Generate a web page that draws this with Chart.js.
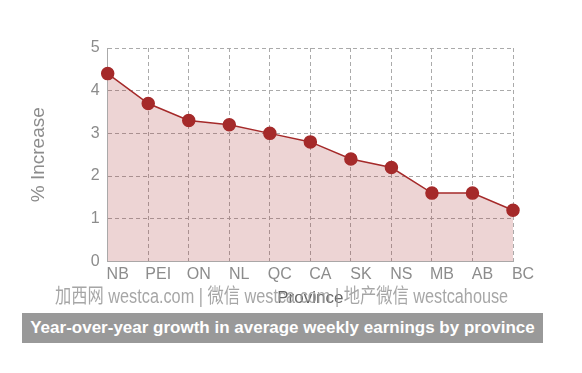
<!DOCTYPE html>
<html>
<head>
<meta charset="utf-8">
<script src="https://cdn.jsdelivr.net/npm/chart.js@4"></script>
<style>
  body { margin: 0; background: #fff; font-family: Arial, "Liberation Sans", sans-serif; }
  #wrap { position: absolute; left: 0; top: 0; width: 582px; height: 309px; }
  #mark { position: absolute; left: 55px; top: 280px; text-align: left; transform-origin: 0 0;
          font: 20px "Liberation Sans", Arial, "Noto Sans CJK SC", sans-serif; color: rgba(150,150,150,0.85); white-space: nowrap; }
  #caption { position: absolute; left: 22px; top: 313px; width: 521px; height: 30px; line-height: 30px;
             background: #999; color: #fff; font-weight: bold; font-size: 17px; text-align: center; }
</style>
</head>
<body>
<div id="wrap"><canvas id="growthChart"></canvas></div>
<div id="mark">加西网 westca.com | 微信 westca.com | 地产微信 westcahouse</div>
<div id="caption">Year-over-year growth in average weekly earnings by province</div>
<script>
const provinces = ['NB', 'PEI', 'ON', 'NL', 'QC', 'CA', 'SK', 'NS', 'MB', 'AB', 'BC'];
const increase = [4.4, 3.7, 3.3, 3.2, 3.0, 2.8, 2.4, 2.2, 1.6, 1.6, 1.2];
const yTicks = [0, 1, 2, 3, 4, 5];

// squeeze the watermark line to the width it has in the picture
const mark = document.getElementById('mark');
mark.style.transform = 'scaleX(' + (453 / mark.scrollWidth) + ')';

const ctx = document.getElementById('growthChart').getContext('2d');

// dashed grey grid, like the original
const gridStyle = { color: '#aaa', lineWidth: 1, drawTicks: false };
const borderStyle = { color: '#aaa', dash: [4, 3] };

new Chart(ctx, {
    type: 'line',
    data: {
        labels: provinces,
        datasets: [{
            label: '% Increase',
            data: increase,
            borderColor: '#a52a2a',
            backgroundColor: 'rgba(165, 42, 42, 0.2)',
            pointBackgroundColor: '#a52a2a',
            pointBorderColor: '#a52a2a',
            pointRadius: 6,
            borderWidth: 1.5,
            tension: 0,
            fill: 'origin'
        }]
    },
    options: {
        responsive: true,
        maintainAspectRatio: false,
        animation: false,
        layout: { padding: { left: 22, right: 69, top: 48, bottom: 0 } },
        plugins: { legend: { display: false }, tooltip: { enabled: false } },
        scales: {
            x: {
                offset: false,
                grid: gridStyle,
                border: borderStyle,
                ticks: { color: '#8c8c8c', font: { size: 16 }, padding: 4, labelOffset: 10, maxRotation: 0, autoSkip: false },
                title: { display: true, text: 'Province', color: '#666', font: { size: 17 }, padding: 0 }
            },
            y: {
                min: 0,
                max: 5,
                afterBuildTicks: axis => { axis.ticks = yTicks.map(v => ({ value: v })); },
                grid: gridStyle,
                border: borderStyle,
                ticks: { color: '#8c8c8c', font: { size: 16 }, padding: 8 },
                title: { display: true, text: '% Increase', color: '#8c8c8c', font: { size: 19 }, padding: { top: 5, bottom: 33 } }
            }
        }
    }
});
</script>
</body>
</html>
